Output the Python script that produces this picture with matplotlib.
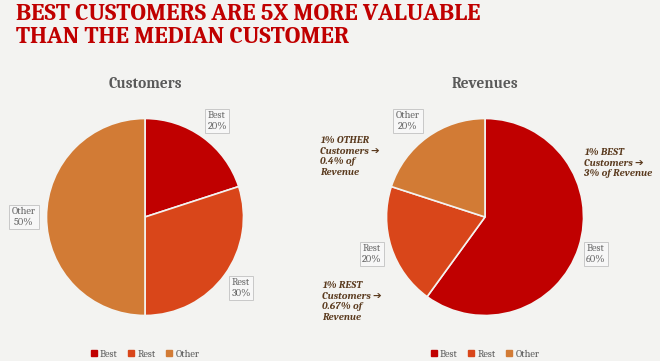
import matplotlib
matplotlib.use("Agg")
import matplotlib.pyplot as plt
from matplotlib.lines import Line2D

W, H = 660, 361
categories = ["Best", "Rest", "Other"]
customers = [20, 30, 50]
revenues = [60, 20, 20]
colors = ["#C00000", "#D9461A", "#D27B35"]
title_lines = ["BEST CUSTOMERS ARE 5X MORE VALUABLE", "THAN THE MEDIAN CUSTOMER"]
notes = ["1% OTHER\nCustomers \u2794\n0.4% of\nRevenue",
         "1% BEST\nCustomers \u2794\n3% of Revenue",
         "1% REST\nCustomers \u2794\n0.67% of\nRevenue"]

fig = plt.figure(figsize=(W / 100, H / 100), dpi=100)
fig.patch.set_facecolor("#F3F3F1")
serif = ["Caladea", "Liberation Serif", "DejaVu Sans"]

def px(x, y):
    return x / W, 1 - y / H

# Title
fig.text(*px(16, 3), title_lines[0] + "\n" + title_lines[1], ha="left", va="top",
         fontsize=17.3, fontweight="bold", color="#C00000", family=serif,
         linespacing=1.08)

def draw_pie(cx, cy, r, values, title, label_pos):
    ax = fig.add_axes([(cx - r) / W, 1 - (cy + r) / H, 2 * r / W, 2 * r / H])
    ax.pie(values, colors=colors, startangle=90, counterclock=False,
           wedgeprops=dict(edgecolor="#F3F3F1", linewidth=1.2))
    ax.set_xlim(-1, 1)
    ax.set_ylim(-1, 1)
    ax.set_aspect("equal")
    ax.axis("off")
    fig.text(*px(cx, 84), title, ha="center", va="center", fontsize=11,
             fontweight="bold", color="#595959", family=serif)
    for cat, v, (lx, ly) in zip(categories, values, label_pos):
        fig.text(*px(lx, ly), f"{cat}\n{v}%", ha="center", va="center",
                 fontsize=7.5, color="#666666", family=serif, linespacing=1.15,
                 bbox=dict(boxstyle="square,pad=0.25", fc="#F7F7F7",
                           ec="#C8C8C8", lw=0.7))
    handles = [Line2D([], [], marker="s", ls="none", markersize=4,
                      markerfacecolor=c, markeredgecolor=c) for c in colors]
    ax.legend(handles, categories, loc="upper center", bbox_to_anchor=(0.5, -0.125),
              ncol=3, frameon=False, handlelength=0.6,
              handletextpad=0.3, columnspacing=1.0,
              prop=dict(family=serif, size=7.5), labelcolor="#595959")

draw_pie(145, 217, 98.5, customers, "Customers",
         [(217, 121), (241, 288), (24, 217)])
draw_pie(485, 217, 98.5, revenues, "Revenues",
         [(596, 254), (372, 254), (408, 121)])

note_kw = dict(ha="left", va="top", fontsize=7.5, fontweight="bold",
               fontstyle="italic", color="#5A3A1E", family=serif, linespacing=1.22)
fig.text(*px(320, 136), notes[0], **note_kw)
fig.text(*px(584, 148), notes[1], **note_kw)
fig.text(*px(322, 281), notes[2], **note_kw)

fig.savefig("out.png", dpi=100, facecolor=fig.get_facecolor())
